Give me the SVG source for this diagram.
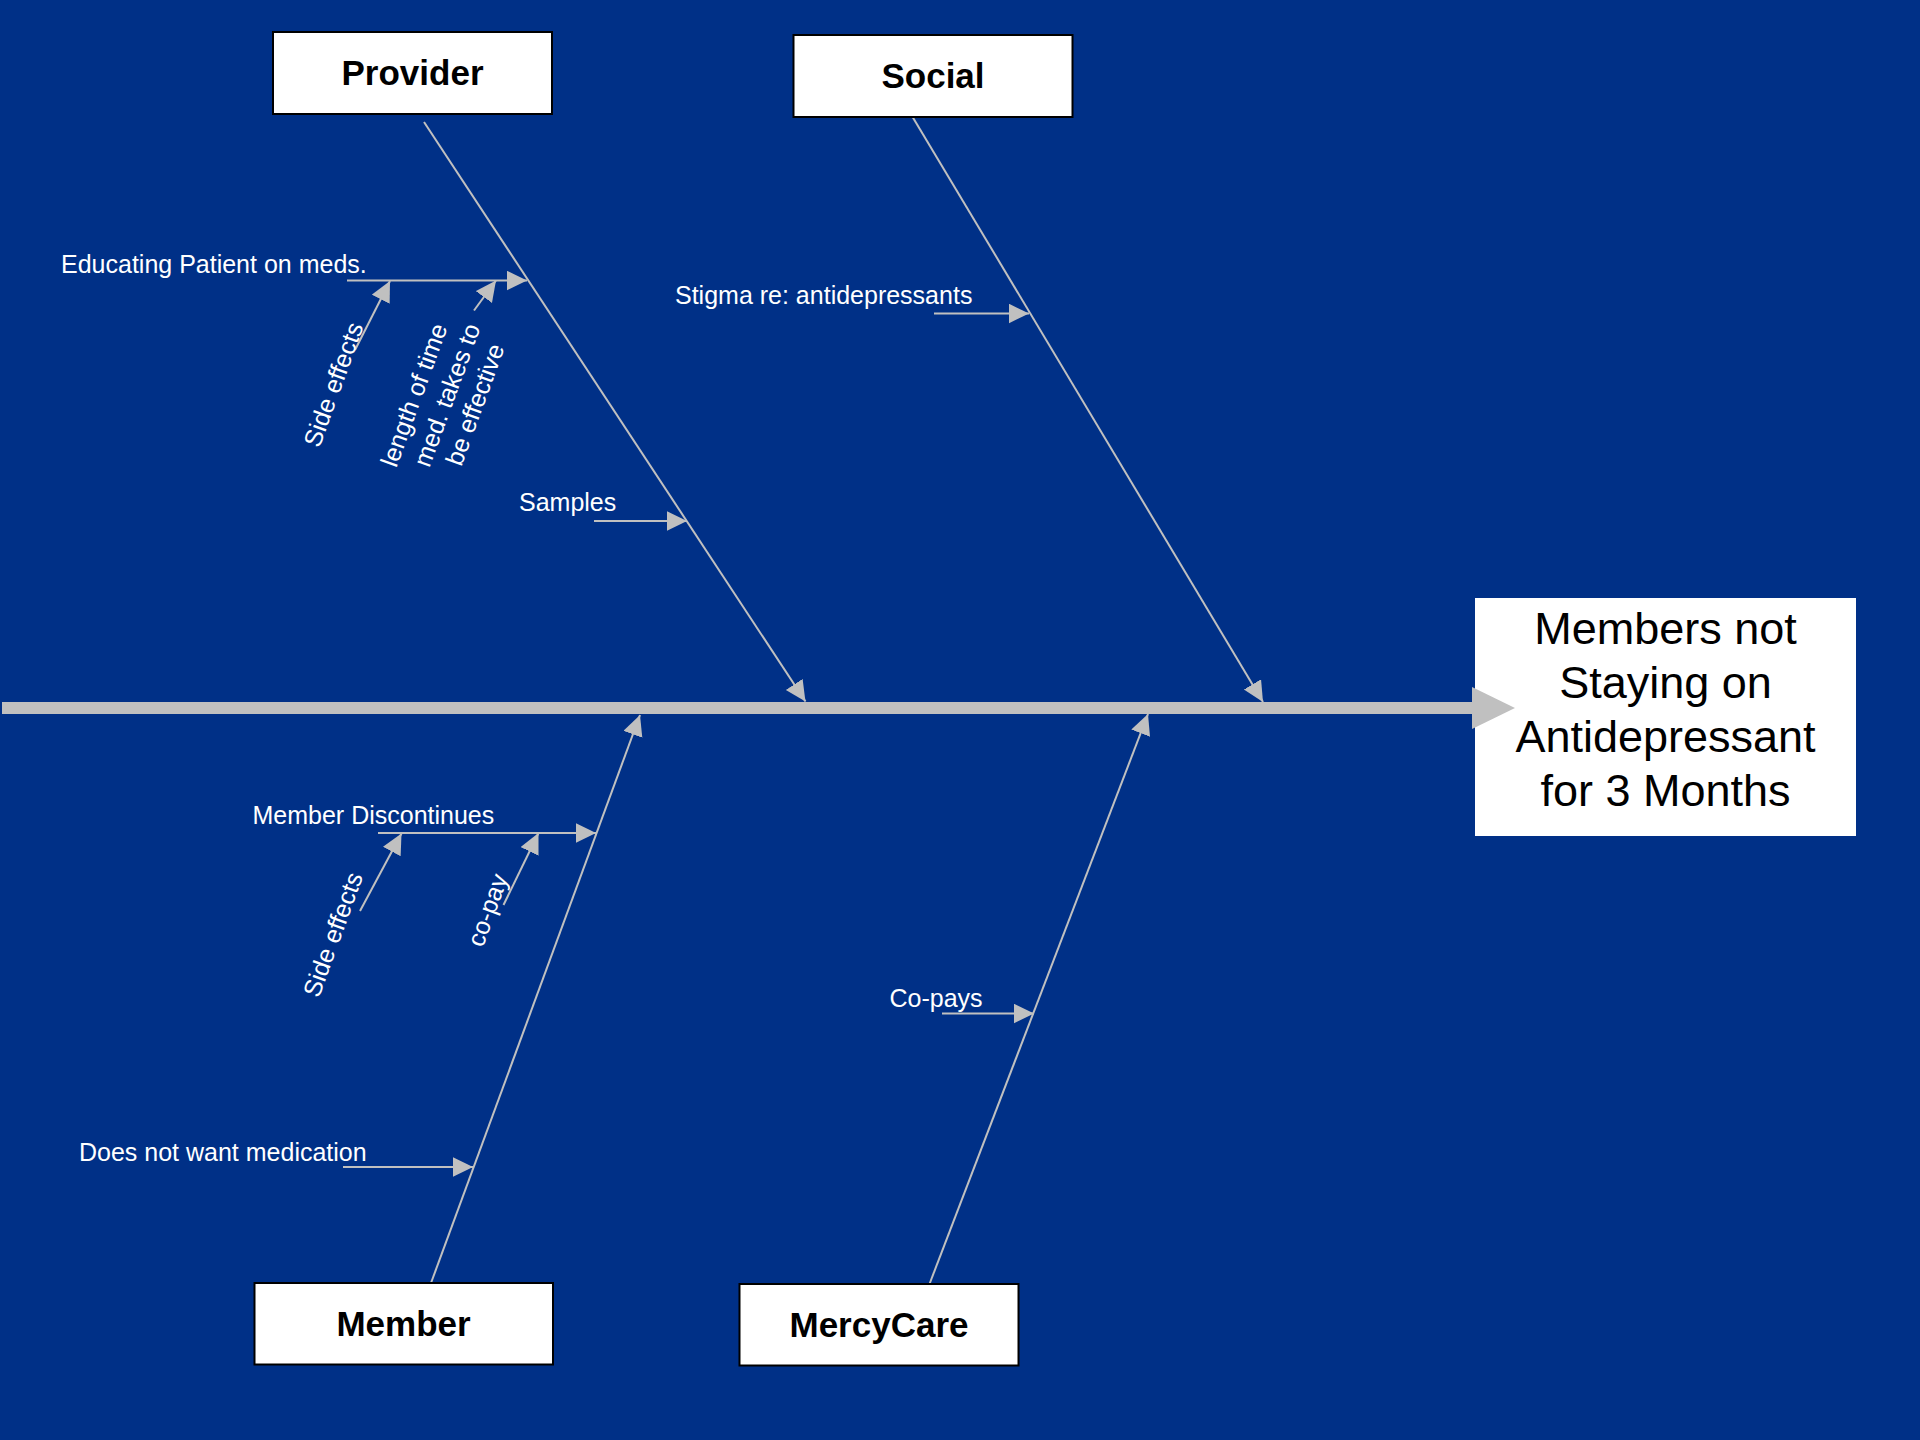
<svg xmlns="http://www.w3.org/2000/svg" width="1920" height="1440" viewBox="0 0 1920 1440">
  <defs>
    <style>
      .box { fill: #ffffff; stroke: #000000; stroke-width: 2; }
      .cat { font-family: "Liberation Sans", Arial, sans-serif; font-weight: bold; font-size: 35px; fill: #000000; text-anchor: middle; }
      .eff { font-family: "Liberation Sans", Arial, sans-serif; font-size: 45px; fill: #000000; text-anchor: middle; }
      .lbl { font-family: "Liberation Sans", Arial, sans-serif; font-size: 25px; fill: #ffffff; }
      .rot { font-family: "Liberation Sans", Arial, sans-serif; font-size: 25px; fill: #ffffff; text-anchor: middle; }
      .bone { stroke: #c0c0c0; stroke-width: 2; fill: none; marker-end: url(#arr); }
    </style>
    <marker id="arr" markerUnits="userSpaceOnUse" markerWidth="22" markerHeight="22" refX="20.5" refY="10" orient="auto">
      <path d="M0,0 L20.5,10 L0,20 Z" fill="#c0c0c0"/>
    </marker>
  </defs>
  <rect x="0" y="0" width="1920" height="1440" fill="#003087"/>

  <g id="effect">
    <rect x="1475" y="598" width="381" height="238" fill="#ffffff"/>
    <text class="eff" x="1665.5" y="644">Members not</text>
    <text class="eff" x="1665.5" y="698">Staying on</text>
    <text class="eff" x="1665.5" y="752">Antidepressant</text>
    <text class="eff" x="1665.5" y="806">for 3 Months</text>
  </g>

  <g id="connectors">
    <rect x="2" y="702" width="1472" height="12" fill="#c0c0c0"/>
    <polygon points="1472,687 1515,708 1472,729" fill="#c0c0c0"/>
    <line class="bone" x1="424" y1="122" x2="805.5" y2="701.5"/>
    <line class="bone" x1="912" y1="116" x2="1263" y2="702"/>
    <line class="bone" x1="431" y1="1283" x2="640" y2="715"/>
    <line class="bone" x1="929.5" y1="1284" x2="1148" y2="714"/>
    <line class="bone" x1="347" y1="280.5" x2="527" y2="280.5"/>
    <line class="bone" x1="934" y1="313.5" x2="1029" y2="313.5"/>
    <line class="bone" x1="594" y1="521" x2="687" y2="521"/>
    <line class="bone" x1="378" y1="833" x2="596" y2="833"/>
    <line class="bone" x1="343" y1="1167" x2="473" y2="1167"/>
    <line class="bone" x1="942" y1="1013.5" x2="1034" y2="1013.5"/>
    <line class="bone" x1="355" y1="350" x2="390" y2="281"/>
    <line class="bone" x1="474" y1="310.5" x2="496" y2="280.5"/>
    <line class="bone" x1="360" y1="911" x2="401.5" y2="833.5"/>
    <line class="bone" x1="503.5" y1="905" x2="538.5" y2="833"/>
  </g>

  <g id="provider">
    <rect class="box" x="273" y="32" width="279" height="82"/>
    <text class="cat" x="412.5" y="85">Provider</text>
  </g>
  <g id="social">
    <rect class="box" x="793.5" y="35" width="279" height="82"/>
    <text class="cat" x="933" y="88">Social</text>
  </g>
  <g id="member">
    <rect class="box" x="254.5" y="1283" width="298.5" height="81.5"/>
    <text class="cat" x="403.5" y="1336">Member</text>
  </g>
  <g id="mercycare">
    <rect class="box" x="739.5" y="1284" width="279" height="81.5"/>
    <text class="cat" x="879" y="1337">MercyCare</text>
  </g>

  <g id="cause-educating">
    <text class="lbl" x="61" y="273">Educating Patient on meds.</text>
  </g>
  <g id="cause-provider-side-effects">
    <text class="rot" transform="translate(341.5,387.5) rotate(-70)">Side effects</text>
  </g>
  <g id="cause-length-of-time">
    <text class="rot" transform="translate(422,398) rotate(-70)">length of time</text>
    <text class="rot" transform="translate(455,398) rotate(-70)">med. takes to</text>
    <text class="rot" transform="translate(483,407.5) rotate(-70)">be effective</text>
  </g>
  <g id="cause-samples">
    <text class="lbl" x="519" y="511">Samples</text>
  </g>
  <g id="cause-stigma">
    <text class="lbl" x="675" y="304">Stigma re: antidepressants</text>
  </g>
  <g id="cause-member-discontinues">
    <text class="lbl" x="252.5" y="824">Member Discontinues</text>
  </g>
  <g id="cause-member-side-effects">
    <text class="rot" transform="translate(341,937.5) rotate(-70)">Side effects</text>
  </g>
  <g id="cause-co-pay">
    <text class="rot" transform="translate(495.5,913) rotate(-70)">co-pay</text>
  </g>
  <g id="cause-does-not-want">
    <text class="lbl" x="79" y="1160.5">Does not want medication</text>
  </g>
  <g id="cause-co-pays">
    <text class="lbl" x="889.5" y="1006.5">Co-pays</text>
  </g>
</svg>
